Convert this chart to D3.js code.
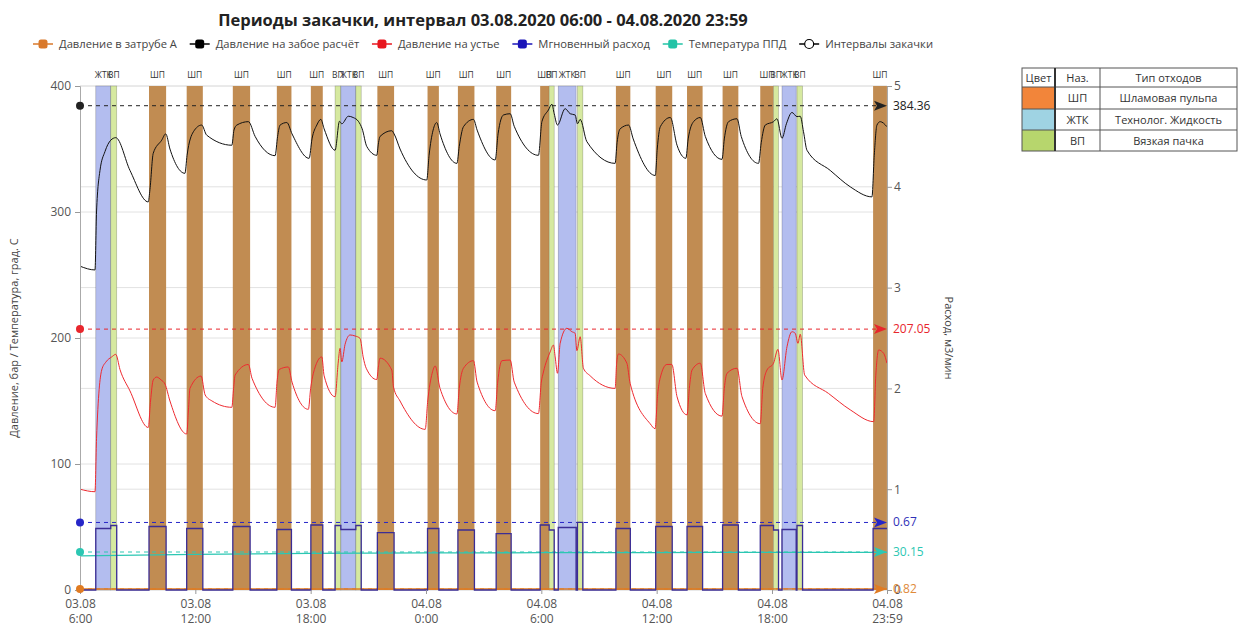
<!DOCTYPE html>
<html><head><meta charset="utf-8">
<script src="https://cdn.jsdelivr.net/npm/d3@7"></script>
<style>
html,body{margin:0;padding:0;background:#fff;}
text{font-family:"Open Sans","Noto Sans",sans-serif;}
</style></head>
<body><svg id="c" width="1243" height="628"></svg>
<script>
// ---------- DATA ----------
const startTime = new Date(2020,7,3,6,0);
const endTime = new Date(2020,7,4,23,59);
const xTickTimes = ["2020-08-03T06:00","2020-08-03T12:00","2020-08-03T18:00","2020-08-04T00:00","2020-08-04T06:00","2020-08-04T12:00","2020-08-04T18:00","2020-08-04T23:59"];
const leftTicks = [0,100,200,300,400];
const rightTicks = [0,1,2,3,4,5];

// injection intervals (hours from 03.08 06:00)
const bandType  = ["ЖТК","ВП","ШП","ШП","ШП","ШП","ШП","ВП","ЖТК","ВП","ШП","ШП","ШП","ШП","ШП","ВП","ЖТК","ВП","ШП","ШП","ШП","ШП","ШП","ВП","ЖТК","ВП","ШП"];
const bandStart = [0.82,1.60,3.59,5.55,7.95,10.24,12.01,13.27,13.57,14.35,15.47,18.08,19.66,21.65,23.94,24.41,24.88,25.88,27.88,29.95,31.58,33.43,35.39,36.08,36.52,37.30,41.26];
const bandEnd   = [1.60,1.91,4.48,6.39,8.85,11.00,12.63,13.57,14.35,14.63,16.34,18.67,20.52,22.43,24.41,24.67,25.81,26.16,28.63,30.81,32.39,34.25,36.08,36.34,37.26,37.59,41.98];
const bandFlow  = [0.61,0.64,0.63,0.61,0.63,0.60,0.645,0.64,0.60,0.64,0.57,0.61,0.595,0.56,0.645,0.595,0.62,0.67,0.61,0.63,0.63,0.645,0.64,0.595,0.60,0.64,0.61];

// Давление на забое расчёт
const bhpH = [0,0.78,0.86,1.04,1.30,1.60,1.86,2.60,3.55,3.64,3.81,4.25,4.46,4.68,5.46,5.57,5.90,6.33,6.59,7.90,8.01,8.16,8.76,9.11,10.15,10.28,10.41,10.76,11.03,11.92,12.07,12.32,12.53,12.70,13.27,13.50,13.62,13.96,14.21,14.48,14.68,14.92,15.44,15.53,15.61,16.22,16.34,16.65,18.04,18.16,18.37,18.56,18.73,19.61,19.73,19.95,20.47,20.66,21.60,21.75,22.03,22.38,22.59,23.85,24.03,24.37,24.55,24.67,24.84,25.24,25.50,25.76,25.88,26.02,26.37,27.84,27.94,28.10,28.54,28.78,29.93,30.03,30.19,30.71,31.06,31.52,31.64,31.92,32.27,32.53,33.40,33.52,33.74,34.18,34.40,35.30,35.44,35.65,36.08,36.26,36.52,36.75,37.04,37.30,37.47,37.64,37.82,39.03,40.07,41.20,41.32,41.46,41.63,41.98];
const bhpV = [257,254,300,333,348,357,359,333,308,318,346.6,357,362,350,330.7,345,363.7,369,361,353,365,369,371.7,360,344.7,360,369,371,362,342.6,358,369,373.5,366,349,372,370,376,375,372,366,352,345,355,360,364.5,362,350,325.4,345,365,371,362,338.6,352,367.7,373.5,365,341.3,362,377,378,368,345,371.7,381,385.5,378,369,382,378,377,370,373.5,355.8,338.6,355,366,369,358,329,350,367.7,375,353,342.6,358,371.7,375,360,341.8,358,371.7,374,360,338.6,355,369,371.7,374,358.5,370,379,375.7,376,363.7,349,333,320,312,345,369,371.7,367.7];

// Давление на устье
const whpH = [0,0.78,0.86,1.13,1.35,1.65,1.86,2.08,2.60,3.55,3.67,3.81,3.99,4.22,4.42,4.68,5.55,5.65,5.72,6.30,6.51,6.87,7.90,7.99,8.07,8.76,8.95,10.15,10.25,10.36,10.84,11.03,11.88,12.00,12.14,12.58,12.70,13.27,13.43,13.53,13.62,13.79,14.05,14.31,14.57,14.73,14.89,15.44,15.53,15.61,16.22,16.31,16.65,17.96,18.09,18.32,18.48,18.73,19.61,19.73,19.95,20.47,20.66,21.60,21.73,21.95,22.38,22.59,23.85,24.00,24.11,24.46,24.63,24.72,24.84,24.98,25.33,25.59,25.76,25.85,26.02,26.19,26.54,27.84,27.92,28.01,28.45,28.62,29.66,29.92,30.05,30.18,30.53,30.79,31.06,31.58,31.70,31.84,32.27,32.53,33.40,33.52,33.66,34.18,34.44,35.39,35.52,35.74,36.08,36.31,36.52,36.78,37.04,37.21,37.35,37.47,37.70,38.94,40.07,41.29,41.40,41.55,41.81,41.98];
const whpV = [80,78,120,174.6,181,185,187,175,158,129,150,166.7,169,166.7,163.5,150,123.8,145,160,169.8,154.8,150,145,160,170.6,179,168,145,165,175,177,165,143.4,160,172,185,170,153.4,180,191.8,181,195,202.4,201.6,199.7,185,176,167,178,184,174.6,161,150,127.5,150,172,177.8,160,139.7,160,176,182,165,142.3,165,182,182.5,165,140,165,173,189,194.4,185,172,195.8,207.7,205,203.7,190,201,176,170,160,180,187.3,180,164,132,128,155,168,179,179,153.4,139,160,174.6,180,156,138,160,172,176,153.4,132,160,174.6,180,191,166.7,193,205,203.7,195.8,203,170.6,156,143,133.6,170,190.5,187.8,180];

// Температура ППД
const tempH = [0,3,6,9,12,15,18,21,24,27,30,33,36,39,41.98];
const tempV = [27.1,27.6,28.2,28.6,29.0,29.3,29.4,29.5,29.6,29.6,29.7,29.8,29.8,29.9,29.9];

// Давление в затрубе А
const annH = [0,41.98];
const annV = [0.8,0.82];

// reference values
const refBhp = 384.36, refWhp = 207.05, refFlow = 0.67, refTemp = 30.15, refAnn = 0.82;

const legendNames = ["Давление в затрубе А","Давление на забое расчёт","Давление на устье","Мгновенный расход","Температура ППД","Интервалы закачки"];
const tableHeader = ["Цвет","Наз.","Тип отходов"];
const tableCode = ["ШП","ЖТК","ВП"];
const tableName = ["Шламовая пульпа","Технолог. Жидкость","Вязкая пачка"];

// ---------- STYLE ----------
const bandColor = {"ШП":"#c18c52","ЖТК":"#b3bdef","ВП":"#d6e9a0"};
const tableColor = ["#f2853a","#9fd3e3","#b7d66d"];
const cBhp="#111", cWhp="#ee2a30", cFlow="#3b2d95", cFlowRef="#2626c8", cTemp="#2cc7b3", cAnn="#e07b22";
const legendColors=["#d9792b","#000","#e8161e","#1a14b8","#22c3a6","#000"];

const svg = d3.select("#c");
const L=80,R=887,T=86,B=590;
const x = d3.scaleTime().domain([startTime,endTime]).range([L,R]);
const y = d3.scaleLinear().domain([0,400]).range([B,T]);
const yR = d3.scaleLinear().domain([0,5]).range([B,T]);
const hd = h => new Date(startTime.getTime()+h*3600000);

// title
svg.append("text").attr("x",483).attr("y",26).attr("text-anchor","middle")
  .attr("font-size",16.5).attr("font-weight","bold").attr("fill","#222")
  .text("Периоды закачки, интервал 03.08.2020 06:00 - 04.08.2020 23:59");

// legend
const lg = svg.append("g");
const lgItems=[];
legendNames.forEach((n,i)=>{
  const g=lg.append("g");
  g.append("line").attr("x1",0).attr("x2",20).attr("y1",0).attr("y2",0).attr("stroke",legendColors[i]).attr("stroke-width",1.5);
  if(i<5) g.append("rect").attr("x",5.5).attr("y",-4.5).attr("width",9).attr("height",9).attr("rx",2.5).attr("fill",legendColors[i]);
  else g.append("circle").attr("cx",10).attr("cy",0).attr("r",4.5).attr("fill","#fff").attr("stroke","#000").attr("stroke-width",1.2);
  const t=g.append("text").attr("x",26).attr("y",4).attr("font-size",11.2).attr("fill","#444").text(n);
  lgItems.push({g,w:26+t.node().getComputedTextLength()});
});
const totalW=900, sumW=d3.sum(lgItems,d=>d.w), gap=(totalW-sumW)/(lgItems.length-1);
let lx=33;
lgItems.forEach(it=>{it.g.attr("transform",`translate(${lx},44)`); lx+=it.w+gap;});

// gridlines
const grid=svg.append("g");
leftTicks.forEach(v=>grid.append("line").attr("x1",L).attr("x2",R).attr("y1",y(v)).attr("y2",y(v)).attr("stroke","#e2e2e2"));
rightTicks.forEach(v=>grid.append("line").attr("x1",L).attr("x2",R).attr("y1",yR(v)).attr("y2",yR(v)).attr("stroke","#e2e2e2"));

// bands
const bands = bandType.map((t,i)=>({t,s:bandStart[i],e:bandEnd[i],f:bandFlow[i]}));
svg.append("g").selectAll("rect").data(bands).join("rect")
  .attr("x",d=>x(hd(d.s))).attr("width",d=>x(hd(d.e))-x(hd(d.s)))
  .attr("y",T).attr("height",B-T).attr("fill",d=>bandColor[d.t])
  .attr("stroke",d=>d.t==="ШП"?"none":"rgba(0,0,0,0.25)").attr("stroke-width",0.7);
svg.append("g").selectAll("text").data(bands).join("text")
  .attr("x",d=>x(hd((d.s+d.e)/2))).attr("y",78).attr("text-anchor","middle")
  .attr("font-size",8.5).attr("fill","#333").text(d=>d.t);

// reference lines
const refs=[{v:y(refBhp),c:"#222",lab:"384.36",lc:"#222"},{v:y(refWhp),c:"#e8262d",lab:"207.05",lc:"#e8262d"},
  {v:yR(refFlow),c:cFlowRef,lab:"0.67",lc:"#3030b8"},{v:y(refTemp),c:cTemp,lab:"30.15",lc:"#2cc7b3"},{v:y(refAnn),c:cAnn,lab:"0.82",lc:"#e08a3a"}];
refs.forEach(r=>{
  svg.append("line").attr("x1",L).attr("x2",R-8).attr("y1",r.v).attr("y2",r.v).attr("stroke",r.c).attr("stroke-width",1).attr("stroke-dasharray","4,4");
});

// series
const line = d3.line().x(d=>x(hd(d[0]))).y(d=>d[1]);
svg.append("path").datum(tempH.map((h,i)=>[h,y(tempV[i])])).attr("d",line).attr("fill","none").attr("stroke",cTemp).attr("stroke-width",1.3);
svg.append("path").datum(annH.map((h,i)=>[h,y(annV[i])])).attr("d",line).attr("fill","none").attr("stroke",cAnn).attr("stroke-width",1.3);
// flow step
const fp=[[0,0]];
bands.forEach((b,i)=>{
  const prev=bands[i-1], next=bands[i+1];
  if(!prev || Math.abs(prev.e-b.s)>0.001) fp.push([b.s,0]);
  fp.push([b.s,b.f]); fp.push([b.e,b.f]);
  if(next && Math.abs(next.s-b.e)>0.001) fp.push([b.e,0]);
});
svg.append("path").datum(fp.map(d=>[d[0],yR(d[1])])).attr("d",line).attr("fill","none").attr("stroke",cFlow).attr("stroke-width",1.3);
svg.append("path").datum(whpH.map((h,i)=>[h,y(whpV[i])])).attr("d",line.curve(d3.curveMonotoneX)).attr("fill","none").attr("stroke",cWhp).attr("stroke-width",1);
svg.append("path").datum(bhpH.map((h,i)=>[h,y(bhpV[i])])).attr("d",line.curve(d3.curveMonotoneX)).attr("fill","none").attr("stroke",cBhp).attr("stroke-width",1);

// axes
const ax = g=>{g.selectAll(".domain").attr("stroke","#aaa");g.selectAll(".tick line").attr("stroke","#999");g.selectAll("text").attr("fill","#555").attr("font-size",12).attr("font-family","'Open Sans',sans-serif");};
svg.append("g").attr("transform",`translate(${L},0)`).call(d3.axisLeft(y).tickValues(leftTicks).tickSize(5).tickPadding(4)).call(ax);
svg.append("g").attr("transform",`translate(${R},0)`).call(d3.axisRight(yR).tickValues(rightTicks).tickFormat(d3.format("d")).tickSize(5).tickPadding(2)).call(ax);
const xt = xTickTimes.map(s=>new Date(s));
const xg = svg.append("g").attr("transform",`translate(0,${B})`).call(d3.axisBottom(x).tickValues(xt).tickSize(4).tickFormat(()=>"")).call(ax);
xg.select(".domain").remove();
xg.selectAll(".tick").each(function(d){
  const t=d3.select(this).append("text").attr("y",18).attr("text-anchor","middle").attr("fill","#555").attr("font-size",12);
  t.append("tspan").attr("x",0).text(d3.timeFormat("%d.%m")(d));
  t.append("tspan").attr("x",0).attr("dy",15).text(d3.timeFormat("%-H:%M")(d));
});

// markers
refs.forEach(r=>{
  svg.append("circle").attr("cx",L).attr("cy",r.v).attr("r",4).attr("fill",r.c);
  svg.append("path").attr("d",`M${R-13},${r.v-5}L${R},${r.v}L${R-13},${r.v+5}L${R-10},${r.v}Z`).attr("fill",r.c);
  svg.append("text").attr("x",R+6).attr("y",r.v+4).attr("font-size",12).attr("fill",r.lc).text(r.lab);
});

// axis titles
svg.append("text").attr("transform","translate(18,338) rotate(-90)").attr("text-anchor","middle").attr("font-size",11).attr("fill","#444").text("Давление, бар / Температура, град. С");
svg.append("text").attr("transform","translate(945,338) rotate(90)").attr("text-anchor","middle").attr("font-size",11).attr("fill","#444").text("Расход, м3/мин");

// table
const tx=1022, ty=68, cw=[33,45,137], rh=[19,22,21,21];
const tg=svg.append("g");
let cy=ty;
const rows=[tableHeader].concat(tableCode.map((c,i)=>["",c,tableName[i]]));
rows.forEach((r,ri)=>{
  let cx=tx;
  r.forEach((cell,ci)=>{
    if(ri>0 && ci===0) tg.append("rect").attr("x",cx).attr("y",cy).attr("width",cw[0]).attr("height",rh[ri]).attr("fill",tableColor[ri-1]);
    tg.append("text").attr("x",cx+cw[ci]/2).attr("y",cy+rh[ri]/2+4).attr("text-anchor","middle").attr("font-size",11).attr("fill","#333").text(cell);
    cx+=cw[ci];
  });
  cy+=rh[ri];
});
const tw=cw[0]+cw[1]+cw[2], th=rh.reduce((a,b)=>a+b,0);
tg.append("rect").attr("x",tx).attr("y",ty).attr("width",tw).attr("height",th).attr("fill","none").attr("stroke","#555").attr("stroke-width",1);
let yy=ty; rh.slice(0,3).forEach(h=>{yy+=h;tg.append("line").attr("x1",tx).attr("x2",tx+tw).attr("y1",yy).attr("y2",yy).attr("stroke","#555");});
tg.append("line").attr("x1",tx+cw[0]).attr("x2",tx+cw[0]).attr("y1",ty).attr("y2",ty+th).attr("stroke","#333").attr("stroke-width",2);
tg.append("line").attr("x1",tx+cw[0]+cw[1]).attr("x2",tx+cw[0]+cw[1]).attr("y1",ty).attr("y2",ty+th).attr("stroke","#555");
</script></body></html>
